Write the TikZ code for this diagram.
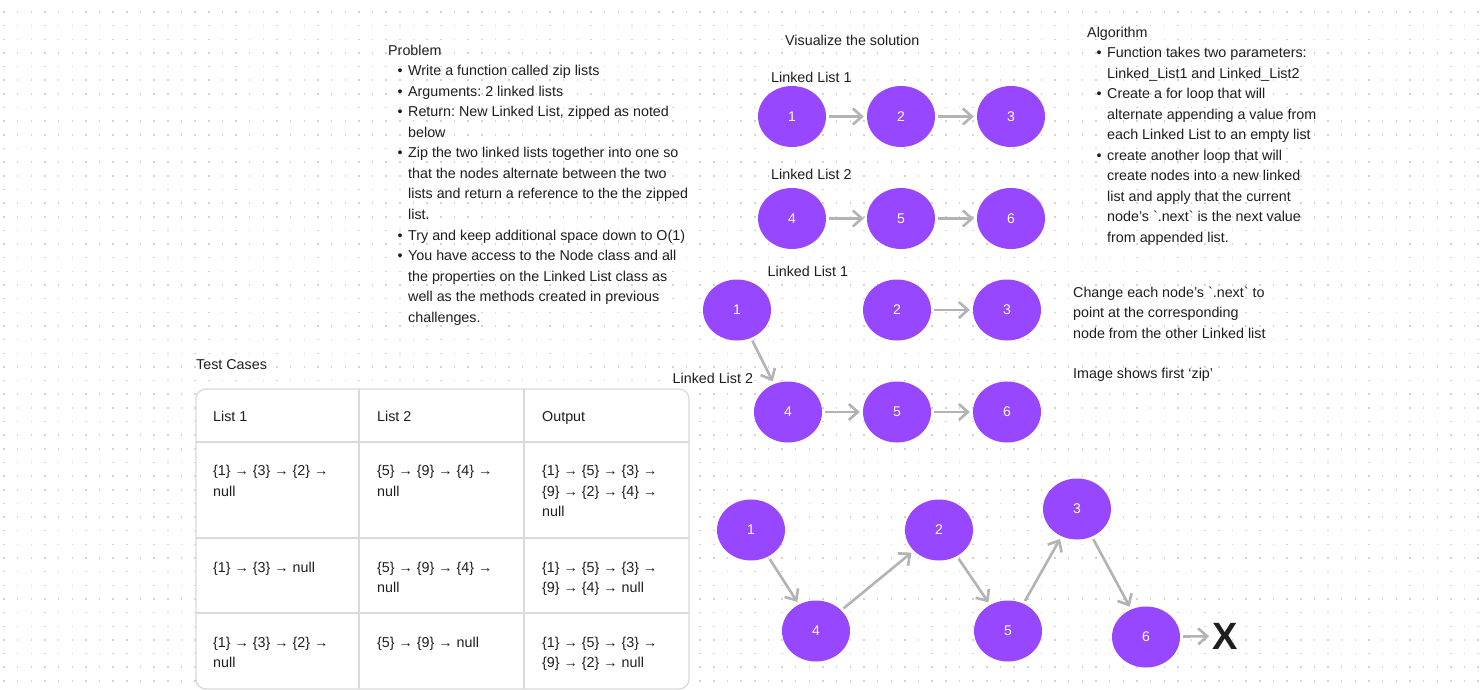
\documentclass[tikz,border=0pt]{standalone}
\usepackage{fontspec}
\setmainfont{Liberation Sans}
\usepackage{tikz}
\usetikzlibrary{shapes.geometric, arrows.meta}
\usepackage{xcolor}
\frenchspacing

\definecolor{roxo}{HTML}{9747FF}
\definecolor{seta}{HTML}{B3B3B3}
\definecolor{tinta}{HTML}{1E1E1E}
\definecolor{ponto}{HTML}{D2D2D2}
\definecolor{linha}{HTML}{DADADA}

\newcommand{\bala}{\makebox[20pt][r]{\textbullet\hspace{5.5pt}}}
\newcommand{\recuo}{\hspace*{20pt}}

\begin{document}
\begin{tikzpicture}[x=1pt, y=-1pt,
    bola/.style={ellipse, fill=roxo, text=white, minimum width=68pt, minimum height=61pt, inner sep=0pt, font=\fontsize{14}{17}\selectfont},
    liga/.style={draw=seta, line width=2.6pt, -{Straight Barb[length=9pt,width=16pt]}, shorten <=3pt, shorten >=3pt},
    texto/.style={text=tinta, anchor=base west, align=left, inner sep=0pt, font=\fontsize{14.3}{20.55}\selectfont},
    grade/.style={draw=ponto, line width=1.5pt, dash pattern=on 1.5pt off 12.15pt},
    grelha/.style={draw=linha, line width=1.3pt},
    fim/.style={text=tinta, inner sep=0pt, font=\fontsize{38}{38}\selectfont\bfseries}]
    % Fundo
    \useasboundingbox (0,0) rectangle (1480,690);
    \fill[white] (0,0) rectangle (1480,690);
    \foreach \j in {0,...,49} {
        \draw[grade] (3.25,{12+13.65*\j}) -- (1480,{12+13.65*\j});
    }
    % Enunciado (base = ultima linha)
    \node[texto] (prob) at (388,322.2) {Problem\\
        \bala Write a function called zip lists\\
        \bala Arguments: 2 linked lists\\
        \bala Return: New Linked List, zipped as noted\\
        \recuo below\\
        \bala Zip the two linked lists together into one so\\
        \recuo that the nodes alternate between the two\\
        \recuo lists and return a reference to the the zipped\\
        \recuo list.\\
        \bala Try and keep additional space down to O(1)\\
        \bala You have access to the Node class and all\\
        \recuo the properties on the Linked List class as\\
        \recuo well as the methods created in previous\\
        \recuo challenges.};
    % Algoritmo
    \node[texto] (alg) at (1087,242.5) {Algorithm\\
        \bala Function takes two parameters:\\
        \recuo Linked\_List1 and Linked\_List2\\
        \bala Create a for loop that will\\
        \recuo alternate appending a value from\\
        \recuo each Linked List to an empty list\\
        \bala create another loop that will\\
        \recuo create nodes into a new linked\\
        \recuo list and apply that the current\\
        \recuo node’s \textasciigrave.next\textasciigrave{} is the next value\\
        \recuo from appended list.};
    \node[texto] (nota) at (1073,338.1) {Change each node’s \textasciigrave.next\textasciigrave{} to\\
        point at the corresponding\\
        node from the other Linked list};
    \node[texto] (zip) at (1073,378.5) {Image shows first ‘zip’};
    % Listas separadas
    \node[texto] (vis) at (785,46) {Visualize the solution};
    \node[texto] (ta) at (771,82.5) {Linked List 1};
    \node[texto] (tb) at (771,179) {Linked List 2};
    \foreach \n/\x in {1/792,2/901,3/1011} {
        \node[bola] (a\n) at (\x,116.5) {\n};
    }
    \foreach \n/\x in {4/792,5/901,6/1011} {
        \node[bola] (a\n) at (\x,218.5) {\n};
    }
    \foreach \i/\j in {1/2,2/3,4/5,5/6} {
        \draw[liga] (a\i) -- (a\j);
    }
    % Primeiro zip
    \node[texto] (tc) at (767.5,276) {Linked List 1};
    \node[texto] (td) at (672.5,383) {Linked List 2};
    \foreach \n/\x/\y in {1/737/310,2/897/310,3/1007/310,4/788/412,5/897/412,6/1007/412} {
        \node[bola] (b\n) at (\x,\y) {\n};
    }
    \foreach \i/\j in {2/3,1/4,4/5,5/6} {
        \draw[liga] (b\i) -- (b\j);
    }
    % Lista final
    \foreach \n/\x/\y in {1/751/530,4/816/631,2/939/530,5/1008/631,3/1077/509,6/1146/637} {
        \node[bola] (c\n) at (\x,\y) {\n};
    }
    \node[fim] (nulo) at (1225,636) {X};
    \foreach \i/\j in {1/4,4/2,2/5,5/3,3/6} {
        \draw[liga] (c\i) -- (c\j);
    }
    \draw[liga] (c6) -- (nulo);
    % Tabela
    \node[texto] (casos) at (196,369) {Test Cases};
    \draw[grelha, fill=white, rounded corners=10pt] (196,389) rectangle (689,689);
    \foreach \x in {359,524} {
        \draw[grelha] (\x,389) -- (\x,689);
    }
    \foreach \y in {442,538,613} {
        \draw[grelha] (196,\y) -- (689,\y);
    }
    \node[texto] (h1) at (213,421) {List 1};
    \node[texto] (h2) at (377,421) {List 2};
    \node[texto] (h3) at (542,421) {Output};
    \node[texto] (c11) at (213,496.05) {\{1\} → \{3\} → \{2\} →\\null};
    \node[texto] (c12) at (377,496.05) {\{5\} → \{9\} → \{4\} →\\null};
    \node[texto] (c13) at (542,516.6) {\{1\} → \{5\} → \{3\} →\\\{9\} → \{2\} → \{4\} →\\null};
    \node[texto] (c21) at (213,572) {\{1\} → \{3\} → null};
    \node[texto] (c22) at (377,592.55) {\{5\} → \{9\} → \{4\} →\\null};
    \node[texto] (c23) at (542,592.55) {\{1\} → \{5\} → \{3\} →\\\{9\} → \{4\} → null};
    \node[texto] (c31) at (213,667.55) {\{1\} → \{3\} → \{2\} →\\null};
    \node[texto] (c32) at (377,647) {\{5\} → \{9\} → null};
    \node[texto] (c33) at (542,667.55) {\{1\} → \{5\} → \{3\} →\\\{9\} → \{2\} → null};
\end{tikzpicture}
\end{document}
